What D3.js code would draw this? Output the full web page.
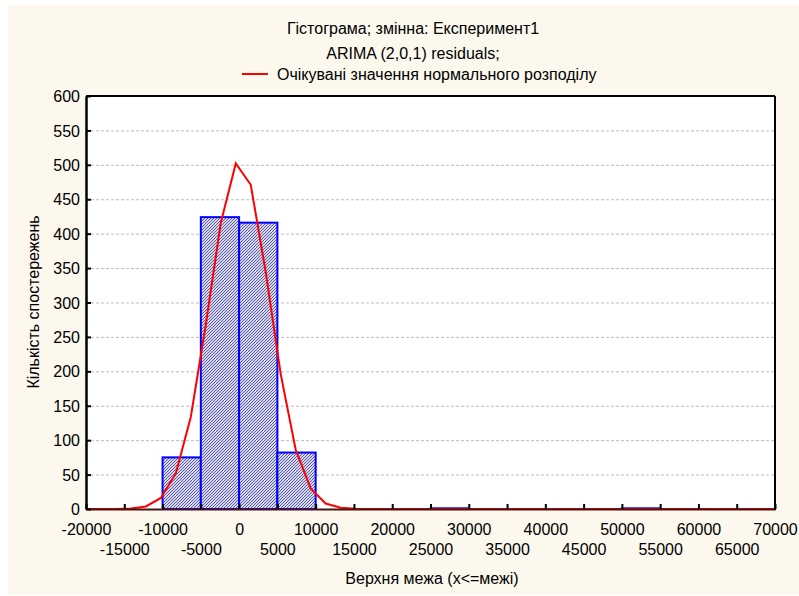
<!DOCTYPE html>
<html><head><meta charset="utf-8">
<script src="https://cdn.jsdelivr.net/npm/d3@7"></script>
<style>body{margin:0;background:#fff}text{font-family:"Liberation Sans",Arial,sans-serif;}</style>
</head><body><svg id="c" width="799" height="596"></svg>
<script>
const titleLines = ["Гістограма; змінна: Експеримент1", "ARIMA (2,0,1) residuals;"];
const legendLabel = "Очікувані значення нормального розподілу";
const xAxisTitle = "Верхня межа (x<=межі)";
const yAxisTitle = "Кількість спостережень";

// histogram bins (upper bound = x <= bound)
const binLower = [-10000, -5000, 0, 5000, 25000, 50000];
const binUpper = [-5000, 0, 5000, 10000, 30000, 55000];
const binCounts = [75, 424, 416, 82, 1, 1];

// expected normal values (vertices of red curve)
const curveX = [-20000, -18043, -16087, -14130, -12174, -10217, -8261, -6304, -4348, -2391,
                -435, 1522, 3478, 5435, 7391, 9348, 11304, 13261, 15217, 17174, 70000];
const curveY = [0, 0, 0.1, 0.7, 3.7, 16, 52, 134, 268, 416,
                502, 471, 344, 196, 86, 30, 8, 1.7, 0.3, 0, 0];

const xTicks = [-20000, -15000, -10000, -5000, 0, 5000, 10000, 15000, 20000, 25000, 30000,
                35000, 40000, 45000, 50000, 55000, 60000, 65000, 70000];
const yTicks = [0, 50, 100, 150, 200, 250, 300, 350, 400, 450, 500, 550, 600];

const svg = d3.select("#c");
const L = 86, R = 775, T = 96, B = 509;
const FS = 16;
const x = d3.scaleLinear().domain([-20000, 70000]).range([L, R]);
const y = d3.scaleLinear().domain([0, 600]).range([B, T]);

// background
svg.append("rect").attr("x", 8).attr("y", 5).attr("width", 791).attr("height", 590).attr("fill", "#fcf8ee");
svg.append("rect").attr("x", L).attr("y", T).attr("width", R - L).attr("height", B - T).attr("fill", "#ffffff");

// pattern
const defs = svg.append("defs");
const pat = defs.append("pattern").attr("id", "hatch").attr("patternUnits", "userSpaceOnUse")
  .attr("width", 3).attr("height", 3);
pat.append("rect").attr("width", 3).attr("height", 3).attr("fill", "#d6d6ee");
pat.append("path").attr("d", "M-1,1 L1,-1 M0,3 L3,0 M2,4 L4,2")
  .attr("stroke", "#474790").attr("stroke-width", 0.85);

// grid
svg.append("g").selectAll("line").data(yTicks.filter(d => d > 0 && d < 600)).join("line")
  .attr("x1", L).attr("x2", R).attr("y1", d => y(d) + 0.5).attr("y2", d => y(d) + 0.5)
  .attr("stroke", "#bdbdbd").attr("stroke-width", 1).attr("stroke-dasharray", "3,2");

// bars
svg.append("g").selectAll("rect").data(binCounts).join("rect")
  .attr("x", (d, i) => x(binLower[i]))
  .attr("y", d => y(d))
  .attr("width", (d, i) => x(binUpper[i]) - x(binLower[i]))
  .attr("height", d => B - y(d))
  .attr("fill", "url(#hatch)")
  .attr("stroke", "#0000ff").attr("stroke-width", 2);

// curve
svg.append("path").datum(curveX.map((v, i) => [v, curveY[i]]))
  .attr("d", d3.line().x(d => x(d[0])).y(d => y(d[1])))
  .attr("fill", "none").attr("stroke", "#ff0000").attr("stroke-width", 2);

// axes
const fmt = d => String(d);
const gx = svg.append("g").attr("transform", `translate(0,${B})`)
  .call(d3.axisBottom(x).tickValues(xTicks).tickSize(-5).tickSizeOuter(0).tickFormat(fmt));
gx.select(".domain").attr("stroke", "#4a1212").attr("stroke-width", 2);
gx.selectAll(".tick line").attr("stroke", "#000").attr("stroke-width", 2);
gx.selectAll(".tick text").attr("dy", 0).attr("y", (d, i) => i % 2 === 0 ? 26 : 46)
  .attr("font-size", FS).attr("fill", "#000");

const gy = svg.append("g").attr("transform", `translate(${L},0)`)
  .call(d3.axisLeft(y).tickValues(yTicks).tickSize(-5).tickSizeOuter(0).tickPadding(6).tickFormat(fmt));
gy.select(".domain").attr("stroke", "#000").attr("stroke-width", 2.5);
gy.selectAll(".tick line").attr("stroke", "#000").attr("stroke-width", 2);
gy.selectAll(".tick text").attr("font-size", FS).attr("fill", "#000").attr("dy", "0.35em");

// top & right frame
svg.append("line").attr("x1", L).attr("x2", R).attr("y1", T).attr("y2", T).attr("stroke", "#000").attr("stroke-width", 2);
svg.append("line").attr("x1", R).attr("x2", R).attr("y1", T).attr("y2", B + 1).attr("stroke", "#000").attr("stroke-width", 2);

// titles
svg.append("g").selectAll("text").data(titleLines).join("text")
  .attr("x", 413).attr("y", (d, i) => 34 + i * 25).attr("text-anchor", "middle")
  .attr("font-size", FS).attr("fill", "#000").text(d => d);

// legend
svg.append("line").attr("x1", 242).attr("x2", 268).attr("y1", 74).attr("y2", 74)
  .attr("stroke", "#ff0000").attr("stroke-width", 2);
svg.append("text").attr("x", 277).attr("y", 80).attr("font-size", FS).attr("fill", "#000").text(legendLabel);

// axis titles
svg.append("text").attr("x", 432).attr("y", 584).attr("text-anchor", "middle")
  .attr("font-size", FS).attr("fill", "#000").text(xAxisTitle);
svg.append("text").attr("transform", "translate(39,302) rotate(-90)").attr("text-anchor", "middle")
  .attr("font-size", FS).attr("fill", "#000").text(yAxisTitle);
</script></body></html>
